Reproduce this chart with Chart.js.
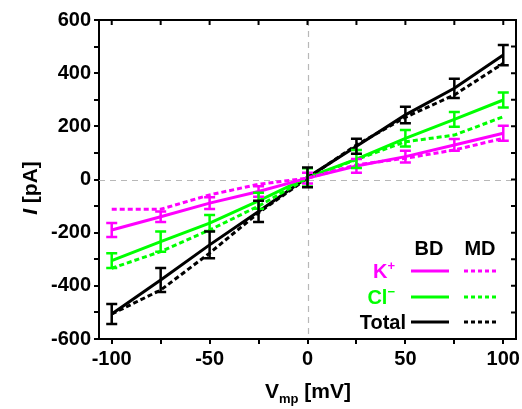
<!DOCTYPE html>
<html>
<head>
<meta charset="utf-8">
<script src="https://cdn.jsdelivr.net/npm/chart.js@4.4.1/dist/chart.umd.min.js"></script>
<style>
  html, body { margin: 0; padding: 0; background: #fff; }
  #ivChart { display: block; }
</style>
</head>
<body>
<canvas id="ivChart" width="522" height="409"></canvas>
<script>
// membrane voltage (mV)
const voltages = [-100, -75, -50, -25, 0, 25, 50, 75, 100];

// BD = solid with error bars, MD = dotted
const kBD = [-190, -140, -89, -45, 5, 51, 86, 130, 174];
const kBDErr = [26, 20, 22, 20, 20, 26, 22, 22, 28];
const kMD = [-112, -112, -58, -18, 5, 55, 80, 111, 155];

const clBD = [-305, -234, -164, -80, 8, 77, 155, 226, 299];
const clBDErr = [28, 38, 30, 30, 34, 34, 31, 28, 28];
const clMD = [-334, -271, -190, -100, 5, 75, 142, 167, 236];

const totBD = [-506, -378, -246, -120, 8, 125, 243, 343, 468];
const totBDErr = [38, 45, 50, 40, 37, 28, 31, 36, 38];
const totMD = [-506, -416, -277, -125, 5, 130, 234, 318, 437];

const xTicks = [-100, -75, -50, -25, 0, 25, 50, 75, 100];
const yTicks = [-600, -500, -400, -300, -200, -100, 0, 100, 200, 300, 400, 500, 600];

const MAGENTA = '#ff00ff';
const GREEN = '#00ff00';
const BLACK = '#000000';
const FONT = '"Liberation Sans", Arial, sans-serif';

function pts(ys) {
    return voltages.map((v, i) => ({ x: v, y: ys[i] }));
}

function line(label, ys, color, dotted, err) {
    return {
        label: label,
        data: pts(ys),
        borderColor: color,
        backgroundColor: color,
        borderWidth: 3,
        borderDash: dotted ? [5, 3] : [],
        pointRadius: 0,
        tension: 0,
        errors: err || null
    };
}

const ivPlugin = {
    id: 'ivPlugin',
    beforeDatasetsDraw(chart) {
        const ctx = chart.ctx;
        const a = chart.chartArea;
        const xs = chart.scales.x, ys = chart.scales.y;
        ctx.save();
        ctx.strokeStyle = '#b8b8b8';
        ctx.lineWidth = 1.2;
        ctx.setLineDash([6, 5]);
        ctx.beginPath();
        const x0 = Math.round(xs.getPixelForValue(0)) + 0.5;
        const y0 = Math.round(ys.getPixelForValue(0)) + 0.5;
        ctx.moveTo(x0, a.top); ctx.lineTo(x0, a.bottom);
        ctx.moveTo(a.left, y0); ctx.lineTo(a.right, y0);
        ctx.stroke();
        ctx.restore();
    },
    afterDatasetsDraw(chart) {
        const ctx = chart.ctx;
        const a = chart.chartArea;
        const xs = chart.scales.x, ys = chart.scales.y;
        ctx.save();

        // error bars
        chart.data.datasets.forEach(ds => {
            if (!ds.errors) return;
            ctx.strokeStyle = ds.borderColor;
            ctx.lineWidth = 2.5;
            ctx.setLineDash([]);
            ds.data.forEach((p, i) => {
                const px = xs.getPixelForValue(p.x);
                const top = ys.getPixelForValue(p.y + ds.errors[i]);
                const bot = ys.getPixelForValue(p.y - ds.errors[i]);
                ctx.beginPath();
                ctx.moveTo(px, top); ctx.lineTo(px, bot);
                ctx.moveTo(px - 5.5, top); ctx.lineTo(px + 5.5, top);
                ctx.moveTo(px - 5.5, bot); ctx.lineTo(px + 5.5, bot);
                ctx.stroke();
            });
        });

        // top + right frame with inward ticks
        ctx.strokeStyle = BLACK;
        ctx.lineWidth = 2;
        ctx.beginPath();
        ctx.moveTo(a.left - 1, a.top); ctx.lineTo(a.right, a.top); ctx.lineTo(a.right, a.bottom + 1);
        xs.ticks.forEach(t => {
            const px = xs.getPixelForValue(t.value);
            ctx.moveTo(px, a.top); ctx.lineTo(px, a.top + 5);
        });
        ys.ticks.forEach(t => {
            const py = ys.getPixelForValue(t.value);
            ctx.moveTo(a.right, py); ctx.lineTo(a.right - 5, py);
        });
        ctx.stroke();

        // legend
        ctx.textBaseline = 'alphabetic';
        ctx.font = 'bold 20px ' + FONT;
        ctx.fillStyle = BLACK;
        ctx.textAlign = 'center';
        ctx.fillText('BD', 429, 255);
        ctx.fillText('MD', 480, 255);

        const rows = [
            { main: 'K', sup: '+', color: MAGENTA, y: 271, right: 395 },
            { main: 'Cl', sup: '\u2212', color: GREEN, y: 297, right: 395 },
            { main: 'Total', sup: '', color: BLACK, y: 322, right: 406 }
        ];
        rows.forEach(r => {
            ctx.font = 'bold 13px ' + FONT;
            const sw = r.sup ? ctx.measureText(r.sup).width : 0;
            ctx.font = 'bold 20px ' + FONT;
            const mw = ctx.measureText(r.main).width;
            ctx.fillStyle = r.color;
            ctx.textAlign = 'left';
            const x = r.right - sw - mw;
            ctx.fillText(r.main, x, r.y + 7);
            if (r.sup) {
                ctx.font = 'bold 13px ' + FONT;
                ctx.fillText(r.sup, x + mw, r.y - 1);
            }
            ctx.strokeStyle = r.color;
            ctx.lineWidth = 3;
            ctx.setLineDash([]);
            ctx.beginPath();
            ctx.moveTo(411, r.y); ctx.lineTo(449, r.y);
            ctx.stroke();
            ctx.setLineDash([4, 3]);
            ctx.beginPath();
            ctx.moveTo(464, r.y); ctx.lineTo(498, r.y);
            ctx.stroke();
        });
        ctx.setLineDash([]);

        // x title: V_mp [mV]
        ctx.fillStyle = BLACK;
        ctx.textAlign = 'left';
        ctx.font = 'bold 21px ' + FONT;
        const vW = ctx.measureText('V').width;
        const restW = ctx.measureText(' [mV]').width;
        ctx.font = 'bold 13px ' + FONT;
        const subW = ctx.measureText('mp').width;
        const tx = 308 - (vW + subW + restW) / 2;
        const base = 398;
        ctx.font = 'bold 21px ' + FONT;
        ctx.fillText('V', tx, base);
        ctx.font = 'bold 13px ' + FONT;
        ctx.fillText('mp', tx + vW, base + 5);
        ctx.font = 'bold 21px ' + FONT;
        ctx.fillText(' [mV]', tx + vW + subW, base);

        // y title: I [pA]
        ctx.translate(37, 188);
        ctx.rotate(-Math.PI / 2);
        ctx.font = 'italic bold 21px ' + FONT;
        const iW = ctx.measureText('I').width;
        ctx.font = 'bold 21px ' + FONT;
        const pW = ctx.measureText(' [pA]').width;
        const sx = -(iW + pW) / 2;
        ctx.font = 'italic bold 21px ' + FONT;
        ctx.fillText('I', sx, 0);
        ctx.font = 'bold 21px ' + FONT;
        ctx.fillText(' [pA]', sx + iW, 0);

        ctx.restore();
    }
};

const ctx = document.getElementById('ivChart');
const ivChart = new Chart(ctx, {
    type: 'line',
    data: {
        datasets: [
            line('K+ MD', kMD, MAGENTA, true),
            line('Cl- MD', clMD, GREEN, true),
            line('Total MD', totMD, BLACK, true),
            line('K+ BD', kBD, MAGENTA, false, kBDErr),
            line('Cl- BD', clBD, GREEN, false, clBDErr),
            line('Total BD', totBD, BLACK, false, totBDErr)
        ]
    },
    options: {
        responsive: false,
        animation: false,
        devicePixelRatio: 1,
        layout: { padding: { top: 20, right: 0, left: 0, bottom: 0 } },
        plugins: { legend: { display: false }, tooltip: { enabled: false } },
        scales: {
            x: {
                type: 'linear',
                min: -106.5,
                max: 106.5,
                afterBuildTicks: s => { s.ticks = xTicks.map(v => ({ value: v })); },
                afterFit: s => { s.height = 70; s.paddingRight = 6; },
                grid: { drawOnChartArea: false, drawTicks: true, tickLength: 5, color: BLACK, lineWidth: 2 },
                border: { color: BLACK, width: 2 },
                ticks: {
                    color: BLACK,
                    padding: 3,
                    maxRotation: 0,
                    autoSkip: false,
                    font: { family: FONT, size: 20, weight: 'bold' },
                    callback: v => (v % 50 === 0 ? String(v) : '')
                }
            },
            y: {
                min: -600,
                max: 600,
                afterBuildTicks: s => { s.ticks = yTicks.map(v => ({ value: v })); },
                afterFit: s => { s.width = 99; },
                grid: { drawOnChartArea: false, drawTicks: true, tickLength: 5, color: BLACK, lineWidth: 2 },
                border: { color: BLACK, width: 2 },
                ticks: {
                    color: BLACK,
                    padding: 3,
                    autoSkip: false,
                    font: { family: FONT, size: 20, weight: 'bold' },
                    callback: v => (v % 200 === 0 ? String(v) : '')
                }
            }
        }
    },
    plugins: [ivPlugin]
});
</script>
</body>
</html>
